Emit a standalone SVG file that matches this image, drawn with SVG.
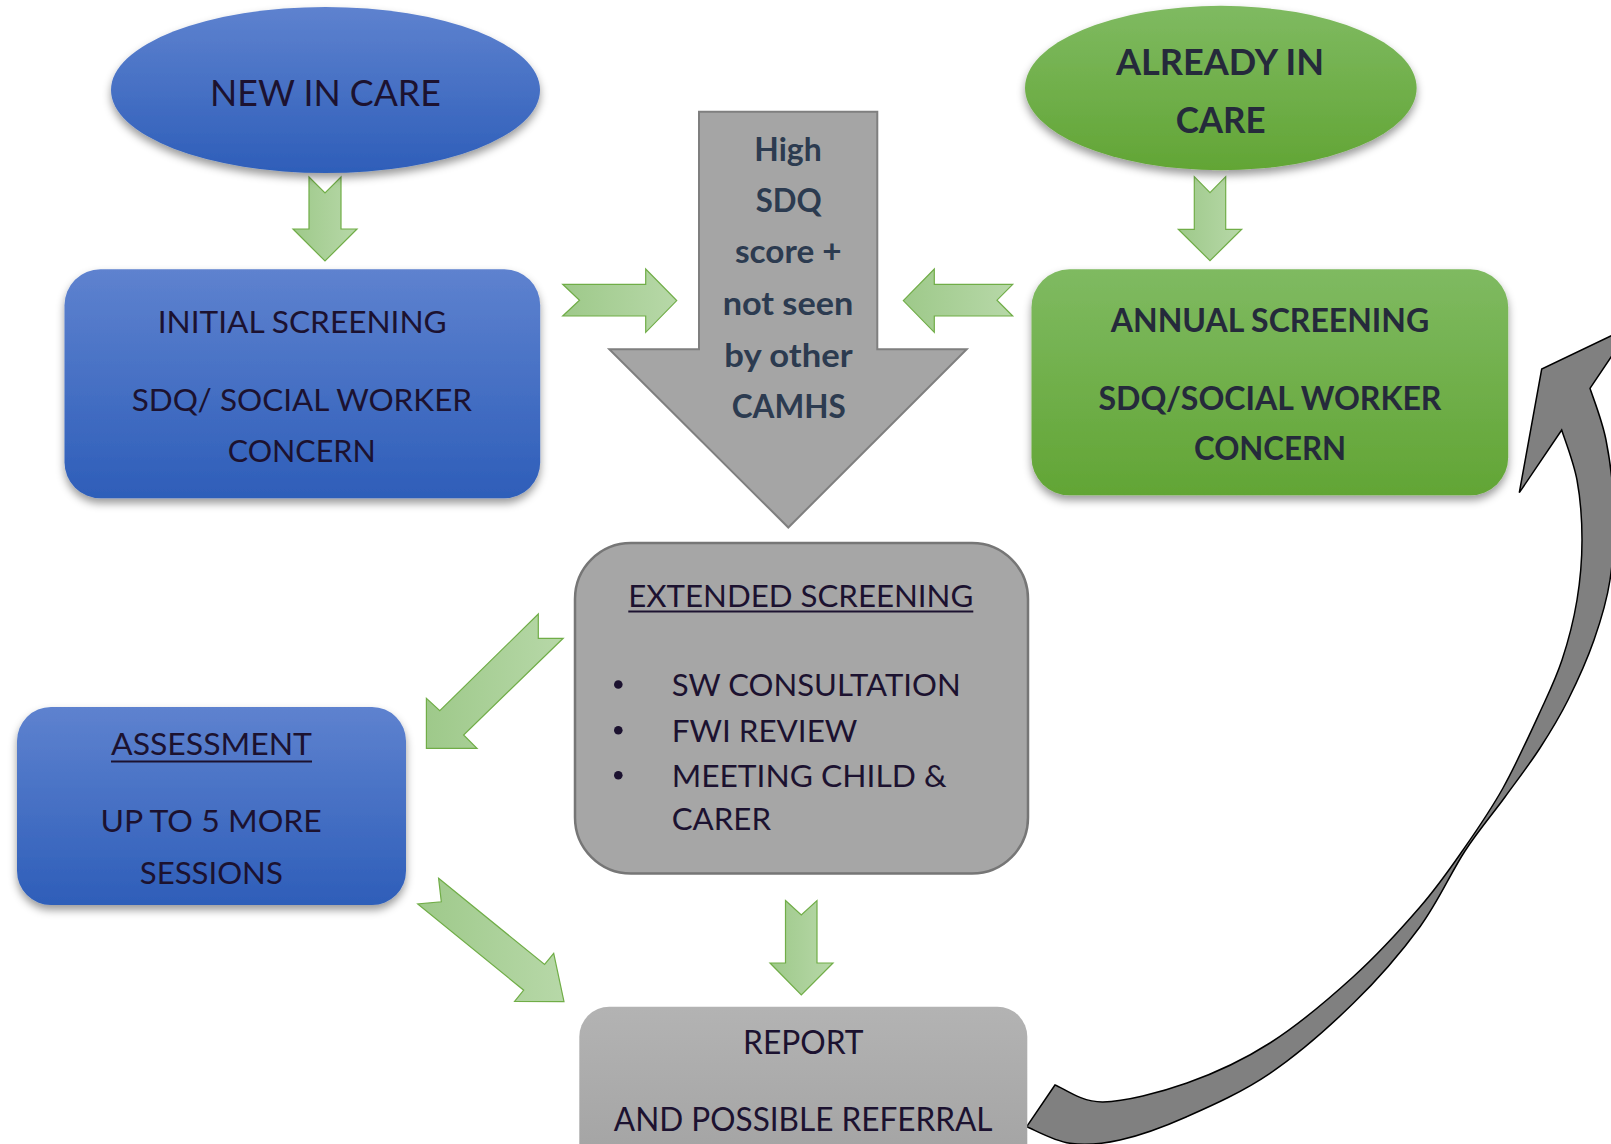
<svg xmlns="http://www.w3.org/2000/svg" width="1611" height="1144" viewBox="0 0 1611 1144">
  <defs>
    <linearGradient id="gBlue" x1="0" y1="0" x2="0" y2="1">
      <stop offset="0" stop-color="#5e82cf"/>
      <stop offset="1" stop-color="#2e5eb9"/>
    </linearGradient>
    <linearGradient id="gGreen" x1="0" y1="0" x2="0" y2="1">
      <stop offset="0" stop-color="#7fba61"/>
      <stop offset="1" stop-color="#62a535"/>
    </linearGradient>
    <linearGradient id="gArrow" x1="0" y1="0" x2="1" y2="0">
      <stop offset="0" stop-color="#9ec98a"/>
      <stop offset="1" stop-color="#b7d8a8"/>
    </linearGradient>
    <linearGradient id="gReport" x1="0" y1="0" x2="0" y2="1">
      <stop offset="0" stop-color="#b3b3b3"/>
      <stop offset="1" stop-color="#a2a2a2"/>
    </linearGradient>
    <filter id="shadow" x="-10%" y="-10%" width="120%" height="130%">
      <feDropShadow dx="0" dy="5" stdDeviation="4" flood-color="#000" flood-opacity="0.4"/>
    </filter>
    <style>
      .t { font-family: Lato, "Open Sans", "Liberation Sans", sans-serif; text-anchor: middle; }
      .tl { font-family: Lato, "Open Sans", "Liberation Sans", sans-serif; }
      .dark { fill: #1c1230; }
      .greenTxt { fill: #252a3b; font-weight: bold; }
      .slate { fill: #2c3b50; font-weight: bold; }
      .green-arrow { fill: url(#gArrow); stroke: #70ad47; stroke-width: 1.2; }
      .ul { stroke: #1c1230; stroke-width: 2; }
    </style>
  </defs>

  <rect width="1611" height="1144" fill="#ffffff"/>

  <!-- connectors -->
  <g id="connectors">
    <!-- new in care -> initial screening -->
    <polygon class="green-arrow" points="309,177 325,193 341,177 341,229 357,229 325,261 293,229 309,229"/>
    <!-- already in care -> annual screening -->
    <polygon class="green-arrow" points="1194.3,176.7 1210,192.7 1225.7,176.7 1225.7,229.3 1241.7,229.3 1210,260.7 1178.3,229.3 1194.3,229.3"/>
    <!-- initial screening -> criteria -->
    <polygon class="green-arrow" points="562.7,284.3 645.7,284.3 645.7,269 676.7,300.6 645.7,332.3 645.7,316 562.7,316 579.5,300.2"/>
    <!-- annual screening -> criteria -->
    <polygon class="green-arrow" points="903.3,300.6 934.3,269 934.3,284.3 1012.7,284.3 997,300.2 1012.7,316 934.3,316 934.3,332.3"/>
    <!-- extended screening -> assessment -->
    <polygon class="green-arrow" points="538.3,614 439.8,710.7 426.4,698.3 426.4,748.3 477,748.3 463.6,735 563.2,638.3 538.3,638.3"/>
    <!-- assessment -> report -->
    <polygon class="green-arrow" points="438.6,878.3 544.6,964.5 553.7,953.3 564,1001.6 514.6,1001.4 523.7,990.2 417.7,904 441.3,901.8"/>
    <!-- extended screening -> report -->
    <polygon class="green-arrow" points="785.5,900.5 801.3,915 817,900.5 817,963 833,963 801.3,995 770,963 785.5,963"/>
    <!-- report -> annual screening (loop back) -->
    <path fill="#808080" stroke="#000000" stroke-width="1.5" stroke-linejoin="miter"
      d="M1055,1085
         C1063,1087.8 1081,1102.3 1103,1102
         C1125,1101.7 1159.2,1092.8 1187,1083
         C1214.8,1073.2 1242.3,1060.7 1270,1043
         C1297.7,1025.3 1328,999.7 1353,977
         C1378,954.3 1401.7,928.2 1420,907
         C1438.3,885.8 1449.2,869.8 1463,850
         C1476.8,830.2 1490.2,811 1503,788
         C1515.8,765 1530.2,733.3 1540,712
         C1549.8,690.7 1555.8,678.7 1562,660
         C1568.2,641.3 1573.7,620 1577,600
         C1580.3,580 1582,560 1582,540
         C1582,520 1580.4,498.3 1577,480
         C1573.6,461.7 1564.3,438.3 1561.7,430
         L1519.3,492.7 L1541.7,369 L1632.3,325.6 L1590,388.3
         C1592.7,396.9 1602,419.7 1606,440
         C1610,460.3 1613.3,486.7 1614,510
         C1614.7,533.3 1613.3,558.3 1610,580
         C1606.7,601.7 1601,620 1594,640
         C1587,660 1577,682 1568,700
         C1559,718 1550.5,731.8 1540,748
         C1529.5,764.2 1517.5,779.8 1505,797
         C1492.5,814.2 1479.2,829.4 1465,851
         C1450.8,872.6 1438.6,901.3 1420,926.7
         C1401.4,952.1 1378.3,978.9 1353.3,1003.3
         C1328.3,1027.7 1297.8,1054.4 1270,1073.3
         C1242.2,1092.2 1211.7,1105.6 1186.7,1116.7
         C1161.7,1127.8 1139.5,1135.6 1120,1140
         C1100.5,1144.4 1085.6,1145.5 1070,1143.3
         C1054.4,1141.1 1033.9,1129.5 1026.7,1126.7 Z"/>
  </g>

  <!-- entry point: new in care -->
  <g id="node-new-in-care">
    <ellipse cx="325.5" cy="90" rx="214.5" ry="83" fill="url(#gBlue)" filter="url(#shadow)"/>
    <text class="t dark" x="325.4" y="106" font-size="36" textLength="230.7" lengthAdjust="spacingAndGlyphs">NEW IN CARE</text>
  </g>

  <!-- entry point: already in care -->
  <g id="node-already-in-care">
    <ellipse cx="1220.8" cy="88" rx="195.8" ry="82.2" fill="url(#gGreen)" filter="url(#shadow)"/>
    <text class="t greenTxt" x="1220" y="75" font-size="37" textLength="208" lengthAdjust="spacingAndGlyphs">ALREADY IN</text>
    <text class="t greenTxt" x="1220.7" y="133.3" font-size="37" textLength="90" lengthAdjust="spacingAndGlyphs">CARE</text>
  </g>

  <!-- initial screening -->
  <g id="node-initial-screening">
    <rect x="64.5" y="269.3" width="475.7" height="229" rx="36" ry="36" fill="url(#gBlue)" filter="url(#shadow)"/>
    <text class="t dark" x="302.2" y="332.7" font-size="31.5" textLength="289" lengthAdjust="spacingAndGlyphs">INITIAL SCREENING</text>
    <text class="t dark" x="301.9" y="410.7" font-size="31.5" textLength="340.3" lengthAdjust="spacingAndGlyphs">SDQ/ SOCIAL WORKER</text>
    <text class="t dark" x="301.7" y="462.3" font-size="31.5" textLength="148" lengthAdjust="spacingAndGlyphs">CONCERN</text>
  </g>

  <!-- annual screening -->
  <g id="node-annual-screening">
    <rect x="1031.5" y="269.3" width="476.7" height="226" rx="38" ry="38" fill="url(#gGreen)" filter="url(#shadow)"/>
    <text class="t greenTxt" x="1270" y="331.7" font-size="31.5" textLength="318.5" lengthAdjust="spacingAndGlyphs">ANNUAL SCREENING</text>
    <text class="t greenTxt" x="1270" y="410" font-size="31.5" textLength="343" lengthAdjust="spacingAndGlyphs">SDQ/SOCIAL WORKER</text>
    <text class="t greenTxt" x="1270" y="460" font-size="31.5" textLength="152" lengthAdjust="spacingAndGlyphs">CONCERN</text>
  </g>

  <!-- referral criteria arrow -->
  <g id="node-criteria">
    <polygon points="699,111.7 877.3,111.7 877.3,349.3 966.7,349.3 788.3,527.5 609.3,349.3 699,349.3" fill="#a5a5a5" stroke="#7f7f7f" stroke-width="2"/>
    <text class="t slate" x="788" y="160.7" font-size="32.5" textLength="67.3" lengthAdjust="spacingAndGlyphs">High</text>
    <text class="t slate" x="788.7" y="211.7" font-size="32.5" textLength="66" lengthAdjust="spacingAndGlyphs">SDQ</text>
    <text class="t slate" x="788.3" y="263.3" font-size="32.5" textLength="106.7" lengthAdjust="spacingAndGlyphs">score +</text>
    <text class="t slate" x="788" y="315" font-size="32.5" textLength="130.7" lengthAdjust="spacingAndGlyphs">not seen</text>
    <text class="t slate" x="788.5" y="366.7" font-size="32.5" textLength="128.3" lengthAdjust="spacingAndGlyphs">by other</text>
    <text class="t slate" x="788.7" y="418.3" font-size="32.5" textLength="114" lengthAdjust="spacingAndGlyphs">CAMHS</text>
  </g>

  <!-- extended screening -->
  <g id="node-extended-screening">
    <rect x="575" y="543" width="453" height="330.5" rx="56" ry="56" fill="#a6a6a6" stroke="#767676" stroke-width="2.5"/>
    <text class="t dark" x="800.8" y="606.7" font-size="31.7" textLength="345" lengthAdjust="spacingAndGlyphs">EXTENDED SCREENING</text>
    <line class="ul" x1="628.3" y1="611.5" x2="973.3" y2="611.5"/>
    <circle cx="618.3" cy="684.5" r="4.3" fill="#1c1230"/>
    <circle cx="618.3" cy="730.2" r="4.3" fill="#1c1230"/>
    <circle cx="618.3" cy="775.2" r="4.3" fill="#1c1230"/>
    <text class="tl dark" x="671.7" y="696" font-size="31.7" textLength="289" lengthAdjust="spacingAndGlyphs">SW CONSULTATION</text>
    <text class="tl dark" x="671.7" y="741.7" font-size="31.7" textLength="185.6" lengthAdjust="spacingAndGlyphs">FWI REVIEW</text>
    <text class="tl dark" x="671.7" y="786.7" font-size="31.7" textLength="275" lengthAdjust="spacingAndGlyphs">MEETING CHILD &amp;</text>
    <text class="tl dark" x="671.7" y="830" font-size="31.7" textLength="99.3" lengthAdjust="spacingAndGlyphs">CARER</text>
  </g>

  <!-- assessment -->
  <g id="node-assessment">
    <rect x="17" y="707" width="389" height="198" rx="34" ry="34" fill="url(#gBlue)" filter="url(#shadow)"/>
    <text class="t dark" x="211.5" y="755" font-size="31" textLength="201" lengthAdjust="spacingAndGlyphs">ASSESSMENT</text>
    <line class="ul" x1="111" y1="761.5" x2="312" y2="761.5"/>
    <text class="t dark" x="211.1" y="832.3" font-size="31" textLength="221.4" lengthAdjust="spacingAndGlyphs">UP TO 5 MORE</text>
    <text class="t dark" x="211.3" y="884" font-size="31" textLength="143" lengthAdjust="spacingAndGlyphs">SESSIONS</text>
  </g>

  <!-- report -->
  <g id="node-report">
    <rect x="579.3" y="1006.8" width="448" height="170" rx="30" ry="30" fill="url(#gReport)"/>
    <text class="t dark" x="803.3" y="1053.5" font-size="32.5" textLength="120.6" lengthAdjust="spacingAndGlyphs">REPORT</text>
    <text class="t dark" x="803.2" y="1131" font-size="32.5" textLength="378.7" lengthAdjust="spacingAndGlyphs">AND POSSIBLE REFERRAL</text>
  </g>
</svg>
